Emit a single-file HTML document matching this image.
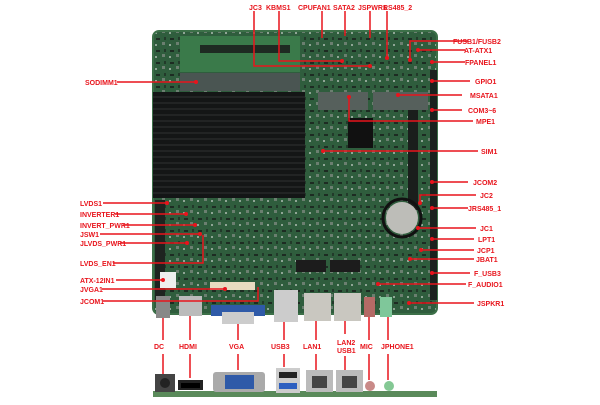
<!DOCTYPE html>
<html><head><meta charset="utf-8"><style>
body{margin:0;width:600px;height:400px;background:#fff;overflow:hidden}
svg text{font-family:"Liberation Sans",sans-serif;font-size:7px;font-weight:bold;fill:#e8141c}
</style></head><body>
<svg width="600" height="400" viewBox="0 0 600 400" xmlns="http://www.w3.org/2000/svg">
<defs>
<pattern id="tex" width="14" height="12" patternUnits="userSpaceOnUse">
<rect width="14" height="12" fill="#2f5d3d"/>
<rect x="2" y="2" width="4" height="2" fill="#1d2b22"/>
<rect x="8" y="6" width="3" height="3" fill="#6b7f70"/>
<rect x="1" y="8" width="2" height="2" fill="#8fa595"/>
<rect x="10" y="1" width="2" height="3" fill="#223a2a"/>
</pattern>
</defs>
<!-- board -->
<rect x="153" y="31" width="284" height="283" rx="6" fill="url(#tex)"/>
<rect x="153" y="31" width="284" height="283" rx="6" fill="none" stroke="#3c7048" stroke-width="2"/>
<rect x="180" y="36" width="120" height="36" fill="#3a7a4a"/>
<rect x="200" y="45" width="90" height="8" fill="#1e2a22"/>
<rect x="180" y="73" width="120" height="18" fill="#4a5552"/>
<rect x="153" y="92" width="152" height="106" fill="#141616"/>
<g stroke="#2b2e2e" stroke-width="1.2">
<line x1="153" y1="97" x2="305" y2="97"/><line x1="153" y1="103" x2="305" y2="103"/><line x1="153" y1="109" x2="305" y2="109"/><line x1="153" y1="115" x2="305" y2="115"/><line x1="153" y1="121" x2="305" y2="121"/><line x1="153" y1="127" x2="305" y2="127"/><line x1="153" y1="133" x2="305" y2="133"/><line x1="153" y1="139" x2="305" y2="139"/><line x1="153" y1="145" x2="305" y2="145"/><line x1="153" y1="151" x2="305" y2="151"/><line x1="153" y1="157" x2="305" y2="157"/><line x1="153" y1="163" x2="305" y2="163"/><line x1="153" y1="169" x2="305" y2="169"/><line x1="153" y1="175" x2="305" y2="175"/><line x1="153" y1="181" x2="305" y2="181"/><line x1="153" y1="187" x2="305" y2="187"/><line x1="153" y1="193" x2="305" y2="193"/>
</g>
<rect x="318" y="92" width="50" height="18" fill="#56605c"/>
<rect x="373" y="92" width="55" height="18" fill="#56605c"/>
<rect x="348" y="118" width="25" height="30" fill="#111"/>
<rect x="408" y="110" width="10" height="100" fill="#1a1e1c"/>
<rect x="430" y="70" width="7" height="230" fill="#1b211e"/>
<rect x="155" y="200" width="10" height="100" fill="#1e2420"/>
<circle cx="402" cy="218" r="16" fill="#bdbdb8"/><circle cx="402" cy="218" r="19" fill="none" stroke="#111" stroke-width="3"/>
<rect x="296" y="260" width="30" height="12" fill="#1c1c1c"/><rect x="330" y="260" width="30" height="12" fill="#1c1c1c"/>
<rect x="210" y="282" width="45" height="8" fill="#e8dcc0"/>
<rect x="160" y="272" width="16" height="16" fill="#eee"/>
<!-- board-edge ports -->
<rect x="156" y="296" width="14" height="22" fill="#888"/>
<rect x="179" y="296" width="23" height="20" fill="#bbb"/>
<rect x="211" y="305" width="54" height="11" fill="#2f5aa8"/><rect x="222" y="312" width="32" height="12" fill="#ccc"/>
<rect x="274" y="290" width="24" height="32" fill="#ccc"/>
<rect x="304" y="293" width="27" height="28" fill="#c9c7c0"/>
<rect x="334" y="293" width="27" height="28" fill="#c9c7c0"/>
<rect x="364" y="297" width="11" height="20" fill="#b46a66"/>
<rect x="380" y="297" width="12" height="20" fill="#7fc79a"/>
<!-- bottom strip -->
<rect x="153" y="391" width="284" height="6" fill="#5a8a5a"/>
<rect x="155" y="374" width="20" height="18" fill="#444"/><circle cx="165" cy="383" r="5" fill="#222"/>
<rect x="178" y="380" width="25" height="10" fill="#222"/><rect x="181" y="383" width="19" height="5" fill="#000"/>
<rect x="213" y="372" width="52" height="20" rx="3" fill="#aaa"/><rect x="225" y="375" width="29" height="14" fill="#2f5aa8"/>
<rect x="276" y="368" width="24" height="25" fill="#ccc"/><rect x="279" y="372" width="18" height="6" fill="#222"/><rect x="279" y="383" width="18" height="6" fill="#2d5fc0"/>
<rect x="306" y="370" width="27" height="22" fill="#bbb"/><rect x="312" y="376" width="15" height="12" fill="#444"/>
<rect x="336" y="370" width="27" height="22" fill="#bbb"/><rect x="342" y="376" width="15" height="12" fill="#444"/>
<circle cx="370" cy="386" r="5" fill="#c98a88"/><circle cx="389" cy="386" r="5" fill="#84c894"/>
<!-- leader lines -->
<g stroke="#e8141c" stroke-width="1.5" fill="none">
<polyline points="254,11 254,66 370,66"/>
<polyline points="279,11 279,61 342,61"/>
<line x1="322" y1="11" x2="322" y2="38"/>
<line x1="345" y1="11" x2="345" y2="36"/>
<line x1="370" y1="11" x2="370" y2="38"/>
<polyline points="387,11 387,58"/>
<polyline points="468,41 410,41 410,60"/>
<line x1="465" y1="50" x2="418" y2="50"/>
<line x1="465" y1="62" x2="432" y2="62"/>
<line x1="470" y1="81" x2="432" y2="81"/>
<line x1="462" y1="95" x2="398" y2="95"/>
<line x1="462" y1="110" x2="432" y2="110"/>
<polyline points="473,121 349,121 349,97"/>
<line x1="478" y1="151" x2="323" y2="151"/>
<line x1="468" y1="182" x2="432" y2="182"/>
<polyline points="476,195 420,195 420,203"/>
<line x1="468" y1="208" x2="432" y2="208"/>
<line x1="476" y1="228" x2="418" y2="228"/>
<line x1="474" y1="239" x2="432" y2="239"/>
<line x1="474" y1="250" x2="421" y2="250"/>
<line x1="474" y1="259" x2="410" y2="259"/>
<line x1="470" y1="273" x2="432" y2="273"/>
<line x1="466" y1="284" x2="378" y2="284"/>
<line x1="474" y1="303" x2="409" y2="303"/>
<line x1="117" y1="82" x2="196" y2="82"/>
<line x1="103" y1="203" x2="167" y2="203"/>
<line x1="115" y1="214" x2="186" y2="214"/>
<line x1="123" y1="225" x2="195" y2="225"/>
<line x1="100" y1="234" x2="200" y2="234"/>
<line x1="120" y1="243" x2="187" y2="243"/>
<polyline points="113,263 203,263 203,235"/>
<line x1="116" y1="280" x2="163" y2="280"/>
<line x1="102" y1="289" x2="225" y2="289"/>
<polyline points="103,301 258,301 258,287"/>
<line x1="163" y1="318" x2="163" y2="340"/><line x1="163" y1="354" x2="163" y2="374"/>
<line x1="190" y1="316" x2="190" y2="340"/><line x1="190" y1="354" x2="190" y2="378"/>
<line x1="238" y1="324" x2="238" y2="340"/><line x1="238" y1="354" x2="238" y2="370"/>
<line x1="284" y1="322" x2="284" y2="340"/><line x1="284" y1="354" x2="284" y2="367"/>
<line x1="316" y1="321" x2="316" y2="340"/><line x1="316" y1="354" x2="316" y2="370"/>
<line x1="345" y1="321" x2="345" y2="334"/><line x1="345" y1="356" x2="345" y2="370"/>
<line x1="369" y1="317" x2="369" y2="340"/><line x1="369" y1="354" x2="369" y2="380"/>
<line x1="388" y1="317" x2="388" y2="340"/><line x1="388" y1="354" x2="388" y2="380"/>
</g>
<g fill="#e8141c">
<circle cx="370" cy="66" r="2"/><circle cx="342" cy="61" r="2"/><circle cx="387" cy="58" r="2"/><circle cx="410" cy="60" r="2"/><circle cx="418" cy="50" r="2"/><circle cx="432" cy="62" r="2"/><circle cx="432" cy="81" r="2"/><circle cx="398" cy="95" r="2"/><circle cx="432" cy="110" r="2"/><circle cx="349" cy="97" r="2"/><circle cx="323" cy="151" r="2"/><circle cx="432" cy="182" r="2"/><circle cx="420" cy="203" r="2"/><circle cx="432" cy="208" r="2"/><circle cx="418" cy="228" r="2"/><circle cx="432" cy="239" r="2"/><circle cx="421" cy="250" r="2"/><circle cx="410" cy="259" r="2"/><circle cx="432" cy="273" r="2"/><circle cx="378" cy="284" r="2"/><circle cx="409" cy="303" r="2"/><circle cx="196" cy="82" r="2"/><circle cx="167" cy="203" r="2"/><circle cx="186" cy="214" r="2"/><circle cx="195" cy="225" r="2"/><circle cx="200" cy="234" r="2"/><circle cx="187" cy="243" r="2"/><circle cx="163" cy="280" r="2"/><circle cx="225" cy="289" r="2"/>
</g>
<!-- labels -->
<text x="249" y="10">JC3</text><text x="266" y="10">KBMS1</text><text x="298" y="10">CPUFAN1</text><text x="333" y="10">SATA2</text><text x="358" y="10">JSPWR1</text><text x="383" y="10">RS485_2</text>
<text x="453" y="44">FUSB1/FUSB2</text><text x="464" y="53">AT-ATX1</text><text x="465" y="65">FPANEL1</text><text x="475" y="84">GPIO1</text><text x="470" y="98">MSATA1</text><text x="468" y="113">COM3~6</text><text x="476" y="124">MPE1</text><text x="481" y="154">SIM1</text><text x="473" y="185">JCOM2</text><text x="480" y="198">JC2</text><text x="468" y="211">JRS485_1</text><text x="480" y="231">JC1</text><text x="478" y="242">LPT1</text><text x="477" y="253">JCP1</text><text x="476" y="262">JBAT1</text><text x="474" y="276">F_USB3</text><text x="468" y="287">F_AUDIO1</text><text x="477" y="306">JSPKR1</text>
<text x="85" y="85">SODIMM1</text><text x="80" y="206">LVDS1</text><text x="80" y="217">INVERTER1</text><text x="80" y="228">INVERT_PWR1</text><text x="80" y="237">JSW1</text><text x="80" y="246">JLVDS_PWR1</text><text x="80" y="266">LVDS_EN1</text><text x="80" y="283">ATX-12IN1</text><text x="80" y="292">JVGA1</text><text x="80" y="304">JCOM1</text>
<text x="154" y="349">DC</text><text x="179" y="349">HDMI</text><text x="229" y="349">VGA</text><text x="271" y="349">USB3</text><text x="303" y="349">LAN1</text><text x="337" y="345">LAN2</text><text x="337" y="353">USB1</text><text x="360" y="349">MIC</text><text x="381" y="349">JPHONE1</text>
</svg>
</body></html>
